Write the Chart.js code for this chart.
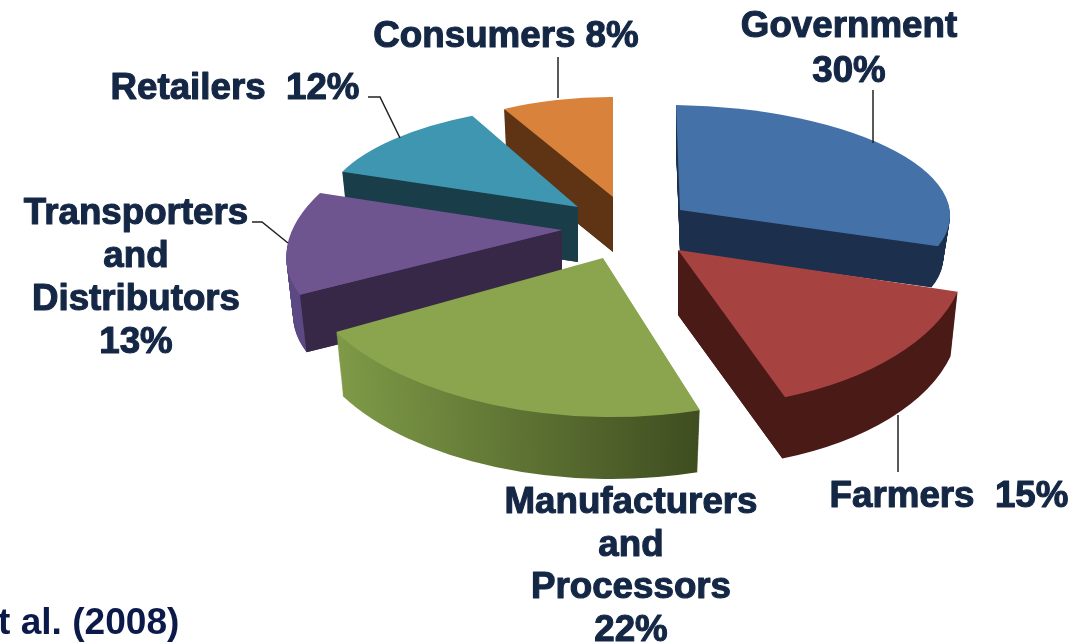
<!DOCTYPE html>
<html>
<head>
<meta charset="utf-8">
<script src="https://cdn.jsdelivr.net/npm/chart.js@4/dist/chart.umd.min.js"></script>
<style>
  html, body { margin: 0; padding: 0; background: #fff; overflow: hidden; }
  canvas { display: block; filter: blur(0.4px); }
</style>
</head>
<body>
<canvas id="pie3d" width="1085" height="643"></canvas>
<script>
// Datos del gráfico
var categories = ['Government', 'Farmers', 'Manufacturers and Processors', 'Transporters and Distributors', 'Retailers', 'Consumers'];
var shares = [30, 15, 22, 13, 12, 8];

// Colores de cada porción
var topColors = ['#4472a8', '#a64341', '#8aa54e', '#6f5590', '#3f96b0', '#d9823c'];
var cutColors = ['#1c2f4c', '#4a1a17', '#3f4d20', '#372848', '#1a3d4a', '#5e3415'];
var rimLeftColors = ['#1c2f4c', '#4a1a17', '#7e9a47', '#5c4883', '#1a3d4a', '#5e3415'];
var rimRightColors = ['#1c2f4c', '#4a1a17', '#3f4d20', '#5c4883', '#1a3d4a', '#5e3415'];

// Vista 3D: cómo se proyecta cada porción (eje x e y del disco, en px)
var pieCenter = [620, 228];
var explode = [[60, -18], [58, 22], [-17, 30], [-58, 2], [-42, -21], [-7, -31]];
var axisX = [[270, 4], [288, -7], [306, 3], [271, -3], [254, 4], [226, 1]];
var axisY = [[4, 105], [19, 157], [2.5, 159], [-51, 129], [-19, 102], [0, 100]];
var depths = [42, 65, 66, 59, 55, 55];
var bottomShrink = 0.975;
var paintOrder = [5, 0, 4, 3, 1, 2];

// Etiquetas
var textColor = '#142745';
var labelFontSize = 36;
var labelStretch = 1.02;
var labels = [
  { lines: ['Government', shares[0] + '%'], x: 849, y: [37, 82] },
  { lines: ['Farmers  ' + shares[1] + '%'], x: 949, y: [507] },
  { lines: ['Manufacturers', 'and', 'Processors', shares[2] + '%'], x: 631, y: [513, 556, 598, 641] },
  { lines: ['Transporters', 'and', 'Distributors', shares[3] + '%'], x: 136, y: [224, 267, 310, 353] },
  { lines: ['Retailers  ' + shares[4] + '%'], x: 235, y: [99] },
  { lines: ['Consumers ' + shares[5] + '%'], x: 506, y: [47] }
];
var leaders = [
  [[558, 57], [558, 98]],
  [[873, 90], [873, 143]],
  [[898, 415], [898, 472]],
  [[368, 97], [380, 97], [400, 138]],
  [[252, 222], [262, 222], [288, 243]]
];
var sourceNote = 't al. (2008)';

function sliceTransform(ctx, arc, i, t) {
  var R = arc.outerRadius;
  var k = (1 - (1 - bottomShrink) * t) / R;
  var ax = axisX[i][0] * k, ay = axisX[i][1] * k;
  var cx = axisY[i][0] * k, cy = axisY[i][1] * k;
  var ox = pieCenter[0] + explode[i][0];
  var oy = pieCenter[1] + explode[i][1] + depths[i] * t;
  ctx.setTransform(ax, ay, cx, cy, ox - ax * arc.x - cx * arc.y, oy - ay * arc.x - cy * arc.y);
}

function project(arc, i, angle, r, t) {
  var k = (1 - (1 - bottomShrink) * t) * r;
  var ux = Math.cos(angle) * k, uy = Math.sin(angle) * k;
  return [
    pieCenter[0] + explode[i][0] + axisX[i][0] * ux + axisY[i][0] * uy,
    pieCenter[1] + explode[i][1] + depths[i] * t + axisX[i][1] * ux + axisY[i][1] * uy
  ];
}

// Cara de corte: solo si queda hacia el frente
function drawCutFace(ctx, arc, i, angle) {
  var mid = (arc.startAngle + arc.endAngle) / 2;
  var a = project(arc, i, angle, 0, 0), e = project(arc, i, angle, 1, 0), m = project(arc, i, mid, 1, 0);
  var nx = -(e[1] - a[1]), ny = e[0] - a[0];
  if (nx * (m[0] - a[0]) + ny * (m[1] - a[1]) < 0) { ny = -ny; }
  if (ny >= 0) return;
  var a2 = project(arc, i, angle, 0, 1), e2 = project(arc, i, angle, 1, 1);
  ctx.setTransform(1, 0, 0, 1, 0, 0);
  ctx.fillStyle = cutColors[i];
  ctx.beginPath();
  ctx.moveTo(a[0], a[1]);
  ctx.lineTo(e[0], e[1]);
  ctx.lineTo(e2[0], e2[1]);
  ctx.lineTo(a2[0], a2[1]);
  ctx.closePath();
  ctx.fill();
}

var pie3dPlugin = {
  id: 'pie3d',
  beforeDatasetsDraw: function(chart) {
    var ctx = chart.ctx;
    var arcs = chart.getDatasetMeta(0).data;
    paintOrder.forEach(function(i) {
      var arc = arcs[i];
      var original = arc.options;
      var sinA = Math.sin(arc.startAngle + Math.PI / 2), sinB = Math.sin(arc.endAngle + Math.PI / 2);
      var grad;
      ctx.save();
      // Borde exterior: el arco repetido hacia abajo
      for (var d = depths[i]; d > 0; d--) {
        sliceTransform(ctx, arc, i, d / depths[i]);
        grad = ctx.createLinearGradient(arc.x + arc.outerRadius * Math.min(sinA, sinB), 0, arc.x + arc.outerRadius * Math.max(sinA, sinB), 0);
        grad.addColorStop(0, rimLeftColors[i]);
        grad.addColorStop(1, rimRightColors[i]);
        arc.options = Object.assign({}, original, { backgroundColor: grad });
        arc.draw(ctx);
      }
      arc.options = original;
      drawCutFace(ctx, arc, i, arc.startAngle);
      drawCutFace(ctx, arc, i, arc.endAngle);
      // Cara superior
      sliceTransform(ctx, arc, i, 0);
      arc.draw(ctx);
      ctx.restore();
    });
    return false;
  },
  afterDraw: function(chart) {
    var ctx = chart.ctx;
    ctx.save();
    ctx.setTransform(1, 0, 0, 1, 0, 0);
    ctx.strokeStyle = '#222';
    ctx.lineWidth = 1.5;
    leaders.forEach(function(pts) {
      ctx.beginPath();
      pts.forEach(function(p, n) {
        if (n === 0) ctx.moveTo(p[0], p[1]); else ctx.lineTo(p[0], p[1]);
      });
      ctx.stroke();
    });
    ctx.fillStyle = textColor;
    ctx.strokeStyle = textColor;
    ctx.lineWidth = 1.1;
    ctx.lineJoin = 'round';
    ctx.textAlign = 'center';
    ctx.textBaseline = 'alphabetic';
    ctx.font = 'bold ' + labelFontSize + 'px "Liberation Sans", Arial, sans-serif';
    labels.forEach(function(l) {
      l.lines.forEach(function(line, n) {
        ctx.setTransform(labelStretch, 0, 0, 1, l.x, l.y[n]);
        ctx.fillText(line, 0, 0);
        ctx.strokeText(line, 0, 0);
      });
    });
    ctx.setTransform(1.03, 0, 0, 1, -2, 634);
    ctx.textAlign = 'left';
    ctx.fillStyle = '#0c1a4a';
    ctx.font = 'bold 36px "Liberation Sans", Arial, sans-serif';
    ctx.fillText(sourceNote, 0, 0);
    ctx.restore();
  }
};

new Chart(document.getElementById('pie3d').getContext('2d'), {
  type: 'pie',
  data: {
    labels: categories,
    datasets: [{
      data: shares,
      backgroundColor: topColors,
      borderWidth: 0
    }]
  },
  options: {
    responsive: false,
    animation: false,
    radius: 300,
    plugins: {
      legend: { display: false },
      tooltip: { enabled: false }
    }
  },
  plugins: [pie3dPlugin]
});
</script>
</body>
</html>
